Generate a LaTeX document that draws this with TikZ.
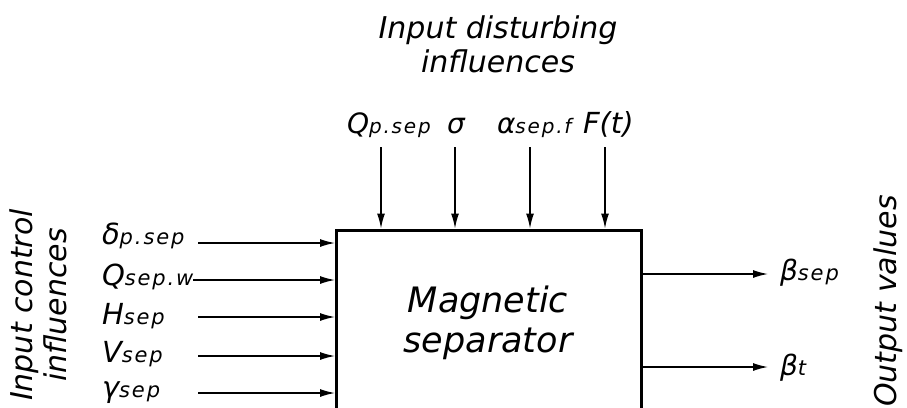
\documentclass[tikz,border=0pt]{standalone}
\usepackage{fontspec}
\setmainfont{DejaVu Sans}
\newfontfamily\subfont{DejaVu Sans}[LetterSpace=9]
\usetikzlibrary{arrows.meta}
\newcommand\sym[4]{{\fontsize{#1}{#1}\selectfont\itshape #3}{\fontsize{#2}{#2}\subfont\itshape #4}}
\begin{document}
\begin{tikzpicture}[x=1pt,y=-1pt,
  lbl/.style={anchor=base west,inner sep=0pt,outer sep=0pt},
  arr/.style={line width=1.4pt,-{Latex[length=15pt,width=8pt]}},
  bigtext/.style={font=\fontsize{30}{34}\selectfont\itshape,align=center,inner sep=0pt},
  blk/.style={draw,line width=3pt,inner sep=0pt,minimum width=305pt,minimum height=230pt,anchor=north west}]
\useasboundingbox (0,0) rectangle (907,407);
\clip (0,0) rectangle (907,407);
\fill[white] (0,0) rectangle (907,407);
% block
\node[blk] (box) at (335,228.5) {};
\node[font=\fontsize{35}{40}\selectfont\itshape,align=center,inner sep=0pt,anchor=base] (boxtext) at (488,352) {Magnetic\\separator};
% titles
\node[bigtext,anchor=base] (top) at (498,72) {Input disturbing\\influences};
\node[bigtext,rotate=90,anchor=center] (left) at (38,305) {Input control\\influences};
\node[bigtext,rotate=90,anchor=center] (right) at (888,301) {Output values};
% left inputs
\node[lbl] (d) at (102,244) {\sym{29}{21}{δ}{p.sep}};
\node[lbl] (q) at (102,285) {\sym{29}{21}{Q}{sep.w}};
\node[lbl] (h) at (102,324) {\sym{29}{21}{H}{sep}};
\node[lbl] (v) at (102,362) {\sym{29}{21}{V}{sep}};
\node[lbl] (g) at (102,397) {\sym{29}{21}{γ}{sep}};
\coordinate (d0) at (198,243);
\coordinate (q0) at (193,280);
\coordinate (h0) at (198,317);
\coordinate (v0) at (198,356);
\coordinate (g0) at (198,393);
\foreach \c in {d0,q0,h0,v0,g0} \draw[arr] (\c) -- (\c -| box.west);
% top inputs
\node[lbl] (tq) at (347,133) {\sym{28}{20}{Q}{p.sep}};
\node[lbl] (ts) at (447,133) {\sym{28}{20}{σ}{}};
\node[lbl] (ta) at (497,133) {\sym{28}{20}{α}{sep.f}};
\node[lbl] (tf) at (583,133) {\sym{29}{20}{F(t)}{}};
\coordinate (t1) at (381,147);
\coordinate (t2) at (455,147);
\coordinate (t3) at (530,147);
\coordinate (t4) at (605,147);
\foreach \c in {t1,t2,t3,t4} \draw[arr] (\c) -- (\c |- box.north);
% outputs
\coordinate (r1) at (768,274);
\coordinate (r2) at (768,367);
\draw[arr] (r1 -| box.east) -- (r1);
\draw[arr] (r2 -| box.east) -- (r2);
\node[lbl] (b1) at (780,280) {\sym{28}{21}{β}{sep}};
\node[lbl] (b2) at (780,375) {\sym{28}{21}{β}{t}};
\end{tikzpicture}
\end{document}
